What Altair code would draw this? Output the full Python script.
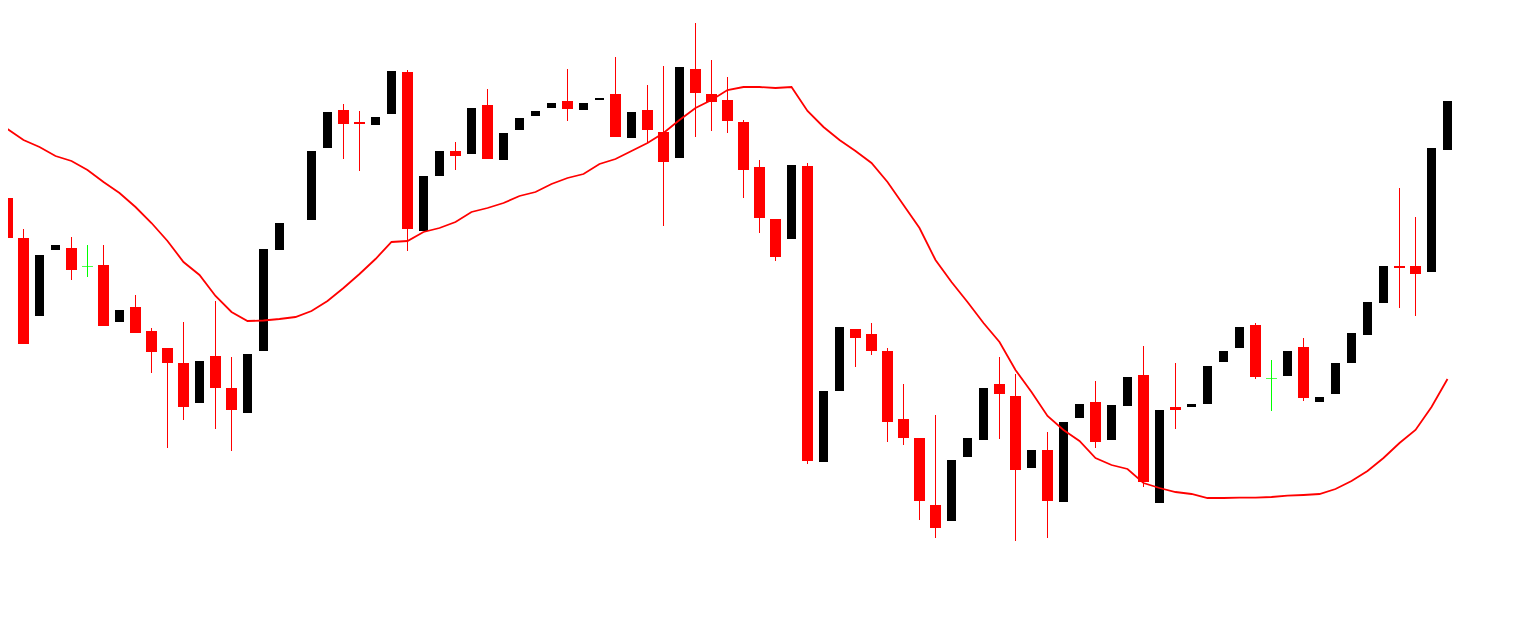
import altair as alt
import pandas as pd

# Candle data (price units; slot 18 has no visible bar)
opens = [422, 382, 304, 370, 372, 354, 355, 298, 313, 289,
         272, 257, 217, 264, 232, 207, 269, 370, None, 400,
         472, 510, 498, 495, 506, 548, 389, 444, 469, 466,
         515, 460, 490, 504, 512, 519, 510, 520, 526, 482,
         510, 488, 462, 551, 526, 520, 498, 453, 401, 381,
         454, 158, 229, 291, 286, 269, 201, 182, 115, 99,
         163, 180, 236, 224, 152, 170, 118, 202, 218, 180,
         214, 245, 117, 213, 213, 216, 258, 272, 295, 242,
         244, 273, 218, 226, 257, 285, 317, 354, 354, 348,
         470]
highs = [431, 391, 365, 375, 383, 375, 375, 310, 325, 292,
         272, 298, 259, 319, 263, 266, 371, 397, None, 469,
         508, 516, 509, 503, 549, 550, 444, 469, 478, 512,
         531, 487, 502, 509, 517, 551, 517, 522, 563, 508,
         535, 554, 553, 597, 560, 543, 500, 460, 401, 455,
         457, 229, 293, 291, 297, 272, 236, 182, 205, 160,
         182, 232, 263, 246, 170, 188, 198, 216, 239, 215,
         243, 274, 210, 257, 216, 254, 269, 293, 297, 260,
         269, 282, 223, 257, 287, 318, 354, 432, 403, 472,
         519]
lows = [352, 276, 304, 370, 340, 343, 294, 298, 287, 247,
        172, 200, 217, 191, 169, 207, 269, 370, None, 400,
        472, 461, 449, 495, 506, 369, 389, 444, 450, 466,
        461, 460, 490, 504, 512, 499, 510, 520, 483, 482,
        477, 394, 462, 483, 489, 487, 422, 387, 359, 381,
        156, 158, 229, 253, 265, 178, 175, 100, 82, 99,
        163, 180, 181, 79, 152, 82, 118, 202, 172, 180,
        214, 133, 117, 191, 213, 216, 258, 272, 241, 209,
        244, 219, 218, 226, 257, 285, 317, 312, 304, 348,
        470]
closes = [382, 276, 365, 375, 350, 354, 294, 310, 287, 268,
          257, 213, 259, 232, 210, 266, 371, 397, None, 469,
          508, 496, 496, 503, 549, 391, 444, 469, 464, 512,
          461, 487, 502, 509, 517, 511, 517, 522, 483, 508,
          490, 458, 553, 527, 518, 499, 450, 402, 363, 455,
          159, 229, 293, 282, 269, 198, 182, 119, 92, 160,
          182, 232, 226, 150, 170, 119, 198, 216, 178, 215,
          243, 138, 210, 210, 216, 254, 269, 293, 243, 242,
          269, 222, 223, 257, 287, 318, 354, 352, 346, 472,
          519]
# Moving average line
ma = [491, 480, 473, 464, 459, 450, 438, 427, 413, 397,
      379, 358, 345, 324, 308, 299, 299.5, 301, 303, 309,
      319, 332, 346, 361, 378, 379, 388, 392, 398, 408,
      412, 417, 424, 428, 436, 442, 446, 456, 461, 469,
      477, 487, 500, 512, 520, 530, 533, 533, 532, 533,
      509, 493, 480, 469, 457, 438, 415, 392, 360, 338,
      318, 297, 278, 250, 228, 204, 190, 179, 162, 155,
      151, 137, 132, 128, 126, 122, 122, 122.3, 122.3, 123,
      124.3, 125, 126, 131, 139, 149, 162, 177, 190, 213,
      241]

rows = []
for i, (o, h, l, c) in enumerate(zip(opens, highs, lows, closes)):
    if o is None:
        continue
    kind = "up" if c > o else ("down" if c < o else "doji")
    rows.append({"i": i, "open": o, "high": h, "low": l, "close": c, "kind": kind})
candles = pd.DataFrame(rows)
line_df = pd.DataFrame({"i": list(range(len(ma))), "ma": ma})

xs = alt.Scale(domain=[0.03125, 94.53125], nice=False, zero=False, padding=0)
ys = alt.Scale(domain=[6, 612], nice=False, zero=False, padding=0)
col = alt.Color("kind:N",
                scale=alt.Scale(domain=["down", "up", "doji"],
                                range=["#ff0000", "#000000", "#00ff00"]),
                legend=None)

base = alt.Chart(candles)

wicks = base.transform_filter(alt.datum.kind != "up").mark_bar(size=1).encode(
    x=alt.X("i:Q", scale=xs, axis=None),
    y=alt.Y("high:Q", scale=ys, axis=None),
    y2="low:Q",
    color=col,
)

bodies = base.transform_filter(alt.datum.kind != "doji").mark_bar().encode(
    x=alt.X("i:Q", scale=xs, axis=None),
    y=alt.Y("open:Q", scale=ys, axis=None),
    y2="close:Q",
    color=col,
    size=alt.condition(alt.datum.kind == "up", alt.value(9), alt.value(11)),
)

doji = base.transform_filter(alt.datum.kind == "doji").mark_tick(
    orient="horizontal", size=11, thickness=1, yOffset=0.5
).encode(
    x=alt.X("i:Q", scale=xs, axis=None),
    y=alt.Y("close:Q", scale=ys, axis=None),
    color=col,
)

ma_line = alt.Chart(line_df).mark_line(color="#ff0000", strokeWidth=1.8).encode(
    x=alt.X("i:Q", scale=xs, axis=None),
    y=alt.Y("ma:Q", scale=ys, axis=None),
)

chart = alt.layer(wicks, bodies, doji, ma_line).properties(
    width=1512, height=606, padding=0,
    autosize=alt.AutoSizeParams(type="none"),
    background="white",
).configure_view(stroke=None).configure_scale(continuousPadding=0)

chart.save("out.html", embed_options={"renderer": "svg", "actions": False})
